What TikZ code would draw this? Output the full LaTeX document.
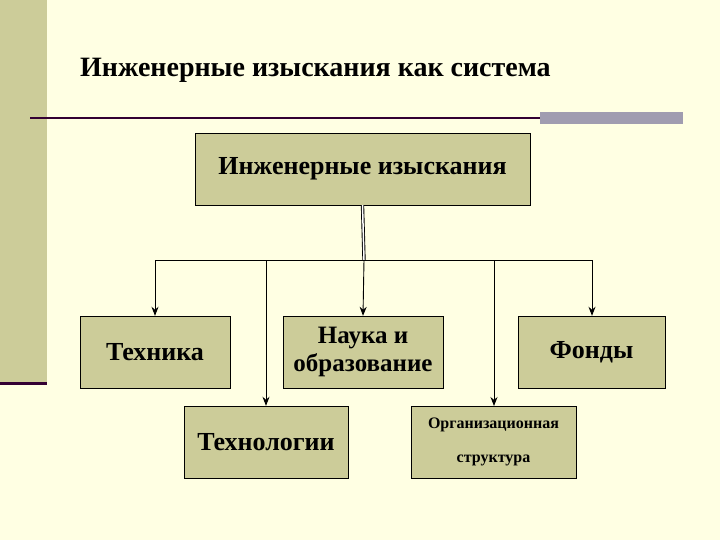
\documentclass[tikz,border=0pt]{standalone}
\usepackage{fontspec}
\setmainfont{Liberation Serif}[BoldFont={Liberation Serif Bold}]
\newfontfamily\tnr{Liberation Serif}[BoldFont={Liberation Serif Bold}]
\usetikzlibrary{arrows.meta}
\definecolor{bg}{HTML}{FFFFE3}
\definecolor{olive}{HTML}{CCCC99}
\definecolor{boxf}{HTML}{CCCC99}
\definecolor{dline}{HTML}{330033}
\definecolor{gbar}{HTML}{A09CB0}
\begin{document}
\begin{tikzpicture}[x=1pt,y=-1pt,
  box/.style={draw=black,fill=boxf,inner sep=0,align=center},
  conn/.style={draw=black,line width=0.9pt},
  arr/.style={conn,-{Stealth[length=9pt,width=7pt]}}]
\fill[bg] (0,0) rectangle (720,540);
\useasboundingbox (0,0) rectangle (720,540);
\fill[olive] (0,0) rectangle (47,383);
\draw[dline,line width=3pt] (0,383) -- (47,383);
\node[font=\tnr\bfseries\fontsize{28}{32}\selectfont,anchor=west,inner sep=0] (title) at (80,70) {Инженерные изыскания как система};
\draw[dline,line width=1.5pt] (30,118) -- (540,118);
\fill[gbar] (540,112) rectangle (683,124);
\node[box,minimum width=335,minimum height=72,font=\tnr\bfseries\fontsize{26}{30}\selectfont] (top) at (362.5,169) {Инженерные изыскания};
\node[box,minimum width=150,minimum height=72,font=\tnr\bfseries\fontsize{26}{30}\selectfont] (tech) at (155,352) {Техника};
\node[box,minimum width=160,minimum height=72,font=\tnr\bfseries\fontsize{25}{28}\selectfont] (nauka) at (363,352) {Наука и\\образование};
\node[box,minimum width=147,minimum height=72,font=\tnr\bfseries\fontsize{26}{30}\selectfont] (fond) at (591.5,352) {Фонды};
\node[box,minimum width=164,minimum height=72,font=\tnr\bfseries\fontsize{26}{30}\selectfont] (techn) at (266,442) {Технологии};
\node[box,minimum width=165,minimum height=72,font=\tnr\bfseries\fontsize{16}{34}\selectfont] (org) at (493.5,442) {Организационная\\структура};
\coordinate (j) at (364,260);
\coordinate (l) at (155,260);
\coordinate (r) at (592,260);
\draw[conn,double distance=1.5pt] (top.south) -- (j);
\draw[conn] (l) -- (r);
\draw[arr] (l) -- (tech.north);
\draw[arr] (j) -- (nauka.north);
\draw[arr] (r) -- (r|-fond.north);
\draw[arr] (266,260) -- (techn.north);
\draw[arr] (494,260) -- (494,406);
\end{tikzpicture}
\end{document}
